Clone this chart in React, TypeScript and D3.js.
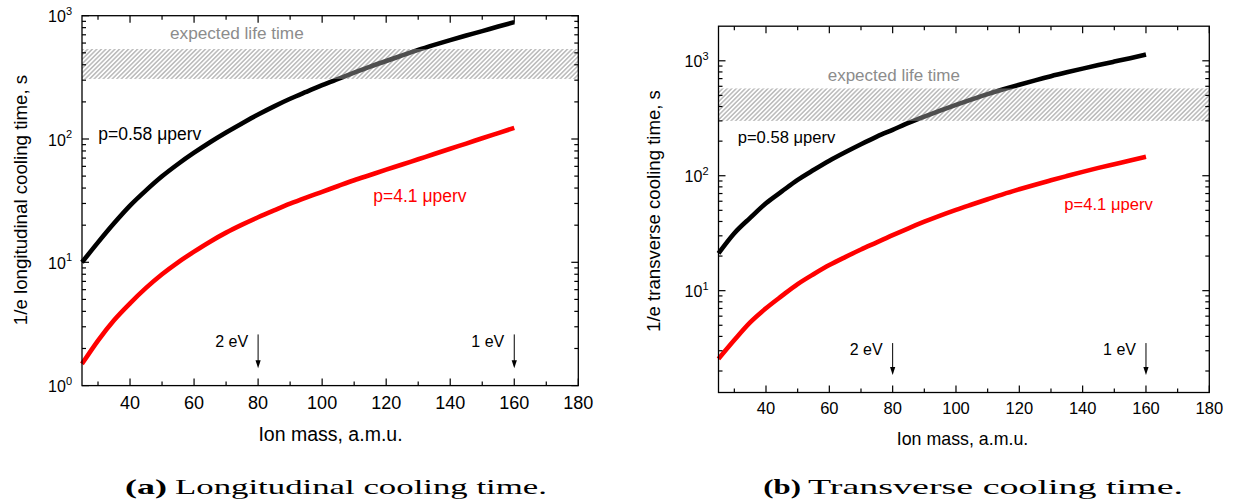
import React from 'react';
import * as d3 from 'd3';

// ---------- data ----------
const MASS = [25, 30, 35, 40, 45, 50, 55, 60, 65, 70, 75, 80, 85, 90, 95, 100, 105, 110, 115, 120, 125, 130, 135, 140, 145, 150, 155, 160];
const LONG_P058 = [10, 14.5, 20.7, 28.8, 38.3, 49.8, 62.7, 77.4, 94.2, 113, 134, 158, 184, 212, 241, 273, 307, 345, 386, 429, 476, 528, 580, 634, 690, 750, 818, 887];
const LONG_P41 = [1.5, 2.32, 3.39, 4.65, 6.2, 8.0, 10.0, 12.2, 14.7, 17.4, 20.2, 23.2, 26.4, 29.9, 33.5, 37.3, 41.6, 46.3, 51.1, 56.4, 62.1, 68.5, 75.5, 83.4, 91.8, 101.4, 111.7, 123];
const TRANS_P058 = [21.1, 31.6, 43, 57.6, 73, 92, 112, 135, 160, 188, 219, 251, 288, 327, 369, 414, 462, 513, 565, 619, 676, 735, 794, 855, 918, 984, 1054, 1135];
const TRANS_P41 = [2.55, 3.72, 5.3, 7.03, 9.0, 11.4, 13.9, 16.7, 19.6, 22.8, 26.3, 30.4, 34.9, 39.8, 45, 50.5, 56.2, 62.4, 69.2, 76.2, 83.6, 91.2, 99.3, 108, 117, 126, 135.5, 146];

const X_DOMAIN = [25, 180];
const X_TICKS = [40, 60, 80, 100, 120, 140, 160, 180];
const X_MINOR = [30, 50, 70, 90, 110, 130, 150, 170];
const Y_DOMAIN_A = [1, 1000];
const Y_DOMAIN_B = [1.3, 2000];
const LIFE_A = [307, 537];
const LIFE_B = [300, 575];
const ARROW_MASS = [80, 160];
const ARROW_LABELS = ['2 eV', '1 eV'];
const ARROW_Y_A = [2.6, 1.38];
const ARROW_Y_B = [3.5, 1.85];
const SERIES_LABELS = ['p=0.58 \u03bcperv', 'p=4.1 \u03bcperv'];
const LIFE_LABEL = 'expected life time';
const X_LABEL = 'Ion mass, a.m.u.';

const SANS = '"Liberation Sans", Arial, Helvetica, sans-serif';
const SERIF = '"Liberation Serif", "DejaVu Serif", serif';

const panels = [
  {
    id: 'a',
    left: 82, right: 578.3, top: 15.7, bottom: 385.6,
    yDomain: Y_DOMAIN_A, black: LONG_P058, red: LONG_P41, band: LIFE_A, arrowY: ARROW_Y_A,
    yLabel: '1/e longitudinal cooling time, s', yLabelX: 26.5, yLabelY: 200, yLabelFont: 18.7,
    xLabelX: 330.5, xLabelY: 441, xLabelFont: 19.5,
    tickFont: 18, tickBase: 409, yTickFont: 16,
    lifeX: 170, lifeY: 39, lifeFont: 17.2,
    blackLblX: 98.3, blackLblY: 140, redLblX: 373.3, redLblY: 202, lblFont: 17.5,
    arrowTextY: 347, arrowFont: 16,
    capTag: '(a)', capText: 'Longitudinal cooling time.', capX: 125, capTagEnd: 167, capTextX: 175, capEnd: 547,
  },
  {
    id: 'b',
    left: 718.5, right: 1209.3, top: 26.2, bottom: 392.5,
    yDomain: Y_DOMAIN_B, black: TRANS_P058, red: TRANS_P41, band: LIFE_B, arrowY: ARROW_Y_B,
    yLabel: '1/e transverse cooling time, s', yLabelX: 659.5, yLabelY: 211, yLabelFont: 18.6,
    xLabelX: 962.5, xLabelY: 445, xLabelFont: 17.8,
    tickFont: 16.5, tickBase: 414, yTickFont: 16,
    lifeX: 827.7, lifeY: 80.5, lifeFont: 17,
    blackLblX: 737.7, blackLblY: 143, redLblX: 1064.3, redLblY: 210, lblFont: 16.6,
    arrowTextY: 355, arrowFont: 16,
    capTag: '(b)', capText: 'Transverse cooling time.', capX: 763.3, capTagEnd: 801, capTextX: 808, capEnd: 1183,
  },
];

function Panel({ cfg }: { cfg: any }) {
  const x = d3.scaleLinear().domain(X_DOMAIN).range([cfg.left, cfg.right]);
  const y = d3.scaleLog().domain(cfg.yDomain).range([cfg.bottom, cfg.top]);
  const line = d3
    .line<number>()
    .x((_, i) => x(MASS[i]))
    .y((d) => y(d))
    .curve(d3.curveMonotoneX);

  const [lo, hi] = cfg.yDomain;
  const eps = 1e-9;
  const major: number[] = [];
  const minor: number[] = [];
  for (let k = Math.floor(Math.log10(lo)); k <= Math.ceil(Math.log10(hi)); k++) {
    const p = Math.pow(10, k);
    if (p >= lo - eps && p <= hi + eps) major.push(k);
    for (let m = 2; m <= 9; m++) {
      const v = m * p;
      if (v > lo + eps && v < hi - eps) minor.push(v);
    }
  }

  const L = 7; // major tick length
  const S = 4; // minor tick length
  const hatchId = `hatch-${cfg.id}`;

  return (
    <g>
      <defs>
        <pattern id={hatchId} width={3.2} height={3.2} patternUnits="userSpaceOnUse" patternTransform="rotate(45)">
          <line x1={0.8} y1={0} x2={0.8} y2={3.2} stroke="#8a8a8a" strokeWidth={0.9} />
          <line x1={2.4} y1={0} x2={2.4} y2={3.2} stroke="#ffffff" strokeOpacity={0.55} strokeWidth={0.9} />
        </pattern>
      </defs>

      {/* curves */}
      <path d={line(cfg.black) || ''} fill="none" stroke="#000" strokeWidth={4.6} />
      <path d={line(cfg.red) || ''} fill="none" stroke="#ff0000" strokeWidth={4.6} />

      {/* expected life time band */}
      <rect
        x={cfg.left}
        width={cfg.right - cfg.left}
        y={y(cfg.band[1])}
        height={y(cfg.band[0]) - y(cfg.band[1])}
        fill={`url(#${hatchId})`}
      />
      <text x={cfg.lifeX} y={cfg.lifeY} fontFamily={SANS} fontSize={cfg.lifeFont} fill="#8c8c8c">
        {LIFE_LABEL}
      </text>

      {/* series labels */}
      <text x={cfg.blackLblX} y={cfg.blackLblY} fontFamily={SANS} fontSize={cfg.lblFont} fill="#000">
        {SERIES_LABELS[0]}
      </text>
      <text x={cfg.redLblX} y={cfg.redLblY} fontFamily={SANS} fontSize={cfg.lblFont} fill="#ff0000">
        {SERIES_LABELS[1]}
      </text>

      {/* arrows */}
      {ARROW_MASS.map((m, i) => {
        const ax = x(m);
        const yt = y(cfg.arrowY[0]);
        const yb = y(cfg.arrowY[1]);
        return (
          <g key={m}>
            <line x1={ax} x2={ax} y1={yt} y2={yb - 7} stroke="#000" strokeWidth={1} />
            <path d={`M${ax - 2.6},${yb - 8} L${ax + 2.6},${yb - 8} L${ax},${yb} Z`} fill="#000" />
            <text x={ax - 10} y={cfg.arrowTextY} textAnchor="end" fontFamily={SANS} fontSize={cfg.arrowFont} fill="#000">
              {ARROW_LABELS[i]}
            </text>
          </g>
        );
      })}

      {/* frame */}
      <rect x={cfg.left} y={cfg.top} width={cfg.right - cfg.left} height={cfg.bottom - cfg.top} fill="none" stroke="#000" strokeWidth={1.3} />

      {/* x ticks bottom & top */}
      {X_TICKS.map((t) => (
        <g key={'xt' + t}>
          <line x1={x(t)} x2={x(t)} y1={cfg.bottom} y2={cfg.bottom - L} stroke="#000" strokeWidth={1.2} />
          <line x1={x(t)} x2={x(t)} y1={cfg.top} y2={cfg.top + L} stroke="#000" strokeWidth={1.2} />
          <text x={x(t)} y={cfg.tickBase} textAnchor="middle" fontFamily={SANS} fontSize={cfg.tickFont} fill="#000">
            {t}
          </text>
        </g>
      ))}
      {X_MINOR.map((t) => (
        <g key={'xm' + t}>
          <line x1={x(t)} x2={x(t)} y1={cfg.bottom} y2={cfg.bottom - S} stroke="#000" strokeWidth={1.2} />
          <line x1={x(t)} x2={x(t)} y1={cfg.top} y2={cfg.top + S} stroke="#000" strokeWidth={1.2} />
        </g>
      ))}

      {/* y ticks left & right */}
      {major.map((k) => {
        const yy = y(Math.pow(10, k));
        return (
          <g key={'ym' + k}>
            <line x1={cfg.left} x2={cfg.left + L} y1={yy} y2={yy} stroke="#000" strokeWidth={1.2} />
            <line x1={cfg.right} x2={cfg.right - L} y1={yy} y2={yy} stroke="#000" strokeWidth={1.2} />
            <text x={cfg.left - 10} y={yy + 6.5} textAnchor="end" fontFamily={SANS} fontSize={cfg.yTickFont} fill="#000">
              <tspan>10</tspan>
              <tspan dy={-7.5} fontSize={11}>{k}</tspan>
            </text>
          </g>
        );
      })}
      {minor.map((v) => (
        <g key={'yn' + v}>
          <line x1={cfg.left} x2={cfg.left + S} y1={y(v)} y2={y(v)} stroke="#000" strokeWidth={1.2} />
          <line x1={cfg.right} x2={cfg.right - S} y1={y(v)} y2={y(v)} stroke="#000" strokeWidth={1.2} />
        </g>
      ))}

      {/* axis labels */}
      <text
        transform={`translate(${cfg.yLabelX},${cfg.yLabelY}) rotate(-90)`}
        textAnchor="middle"
        fontFamily={SANS}
        fontSize={cfg.yLabelFont}
        fill="#000"
      >
        {cfg.yLabel}
      </text>
      <text x={cfg.xLabelX} y={cfg.xLabelY} textAnchor="middle" fontFamily={SANS} fontSize={cfg.xLabelFont} fill="#000">
        {X_LABEL}
      </text>

      {/* caption */}
      <text
        x={cfg.capX}
        y={493.5}
        fontFamily={SERIF}
        fontSize={21}
        fontWeight="bold"
        fill="#000"
        textLength={cfg.capTagEnd - cfg.capX}
        lengthAdjust="spacingAndGlyphs"
      >
        {cfg.capTag}
      </text>
      <text
        x={cfg.capTextX}
        y={493.5}
        fontFamily={SERIF}
        fontSize={21}
        fill="#000"
        textLength={cfg.capEnd - cfg.capTextX}
        lengthAdjust="spacingAndGlyphs"
      >
        {cfg.capText}
      </text>
    </g>
  );
}

export default function App() {
  return (
    <svg
      width={1238}
      height={502}
      viewBox="0 0 1238 502"
      style={{ position: 'absolute', left: 0, top: 0, background: '#fff' }}
    >
      <rect x={0} y={0} width={1238} height={502} fill="#fff" />
      {panels.map((p) => (
        <Panel key={p.id} cfg={p} />
      ))}
    </svg>
  );
}
